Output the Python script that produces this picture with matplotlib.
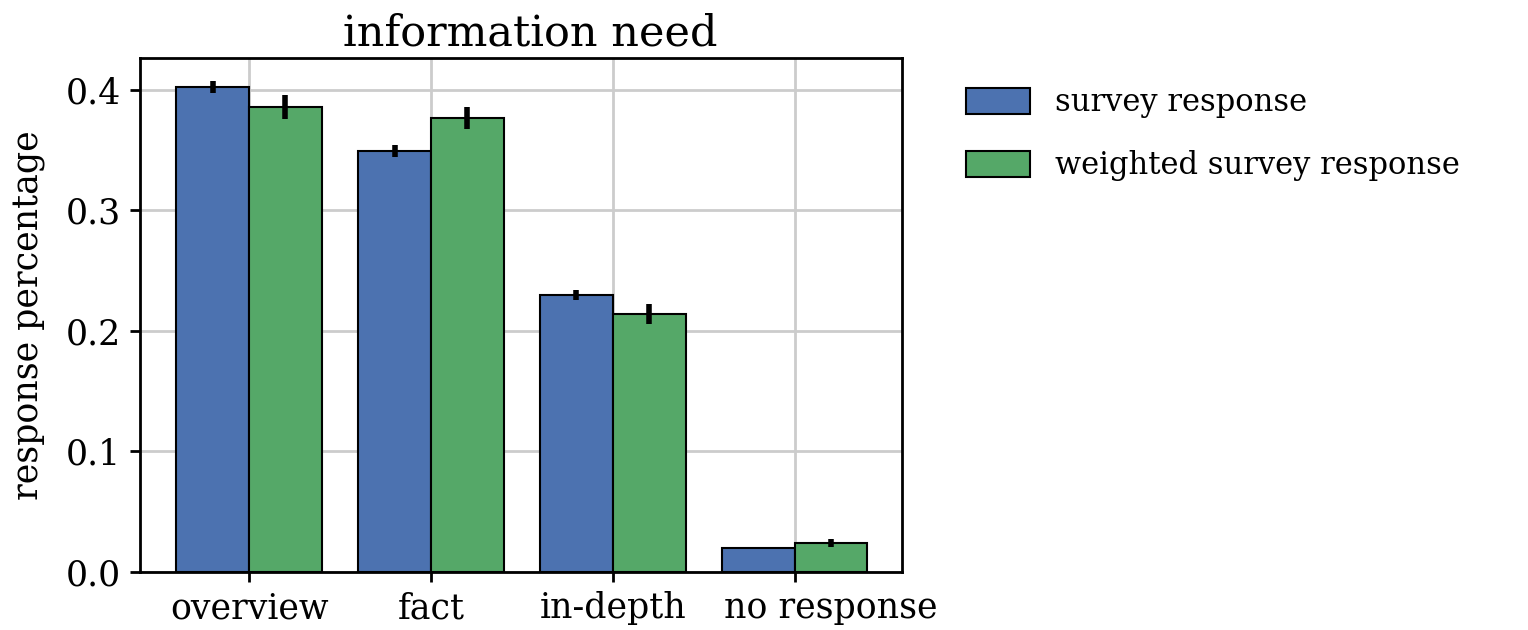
import matplotlib
matplotlib.use("Agg")
import matplotlib.pyplot as plt
from matplotlib.transforms import ScaledTranslation
import numpy as np

categories = ["overview", "fact", "in-depth", "no response"]
series_names = ["survey response", "weighted survey response"]
survey = [0.4025, 0.349, 0.230, 0.020]
survey_err = [0.005, 0.005, 0.004, 0.001]
weighted = [0.386, 0.377, 0.214, 0.024]
weighted_err = [0.010, 0.009, 0.008, 0.003]
yticks = [0.0, 0.1, 0.2, 0.3, 0.4]
colors = ["#4C72B0", "#55A868"]

plt.rcParams["font.family"] = ["DejaVu Serif"]

fig = plt.figure(figsize=(15.28, 6.3), dpi=100)
ax = fig.add_axes([140/1528, 1-572/630, (902-140)/1528, (572-58)/630])

x = np.arange(len(categories))
w = 0.4
for i, (vals, errs) in enumerate([(survey, survey_err), (weighted, weighted_err)]):
    ax.bar(x + (i - 0.5) * w, vals, width=w, color=colors[i], edgecolor="black",
           linewidth=1.5, label=series_names[i], zorder=2)
    ax.errorbar(x + (i - 0.5) * w, vals, yerr=errs, fmt="none", ecolor="black",
                elinewidth=4, capsize=0, zorder=3)

ax.set_xlim(-0.6, 3.59)
ax.set_ylim(0, 0.4265)
ax.set_xticks(x)
ax.set_xticklabels(categories)
ax.set_yticks(yticks)
ax.set_yticklabels([f"{t:.1f}" for t in yticks])
ax.grid(True, color="#cccccc", linewidth=2, zorder=0)
ax.set_axisbelow(True)
for s in ax.spines.values():
    s.set_linewidth(2)
    s.set_color("black")
ax.tick_params(axis="both", labelsize=25, length=7, width=2, direction="out",
               colors="black", pad=7)
ax.set_ylabel("response percentage", fontsize=25, labelpad=14)
ax.set_title("information need", fontsize=31, pad=9, x=0.512)

# the last category label sits a bit right of its tick in the reference
lbl = ax.get_xticklabels()[3]
lbl.set_transform(lbl.get_transform() + ScaledTranslation(0.36, 0, fig.dpi_scale_trans))

ax.legend(loc="upper left", bbox_to_anchor=(1.084, 0.943), frameon=False, fontsize=22,
          handlelength=2.1, handleheight=0.95, labelspacing=1.05, handletextpad=0.8,
          borderpad=0, borderaxespad=0)

fig.savefig("out.png", dpi=100)
